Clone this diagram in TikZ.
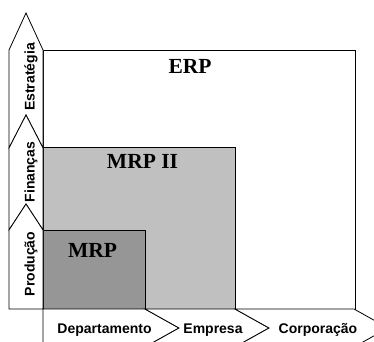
\documentclass[tikz,border=0pt]{standalone}
\usepackage{fontspec}
\setmainfont{Liberation Serif}
\newfontfamily\labelfont{Liberation Sans}
\definecolor{mrptwofill}{HTML}{C0C0C0}
\definecolor{mrpfill}{HTML}{969696}
\begin{document}
\begin{tikzpicture}[x=1pt,y=-1pt,
  outline/.style={draw=black, line width=0.8pt, line join=miter},
  levelbox/.style={outline},
  chevron/.style={outline, fill=white},
  leveltitle/.style={font=\fontsize{21.5}{24}\selectfont\bfseries, inner sep=0pt, anchor=base},
  axislabel/.style={font=\labelfont\fontsize{14}{16}\selectfont\bfseries, inner sep=0pt, anchor=base}]
\useasboundingbox (0,0) rectangle (374,341);

% nested scope boxes
\draw[levelbox, fill=white] (43,50) rectangle (355,309);
\draw[levelbox, fill=mrptwofill] (43,147) rectangle (235,309);
\draw[levelbox, fill=mrpfill] (43,230) rectangle (145,309);

\node[leveltitle] (erp)   at (190,73)  {ERP};
\node[leveltitle] (mrpii) at (142.5,168) {MRP II};
\node[leveltitle] (mrp)   at (92.5,257) {MRP};

% vertical chevrons: decision level
\draw[chevron] (9,50) -- (26,13) -- (43,50) -- (43,148) -- (26,115) -- (9,148) -- cycle;
\draw[chevron] (9,148) -- (26,115) -- (43,148) -- (43,230) -- (26,204) -- (9,230) -- cycle;
\draw[chevron] (9,230) -- (26,204) -- (43,230) -- (43,309) -- (9,309) -- cycle;

\node[axislabel, rotate=90] (estrategia) at (34.5,77)  {Estratégia};
\node[axislabel, rotate=90] (financas)   at (34.5,172) {Finanças};
\node[axislabel, rotate=90] (producao)   at (34.5,264) {Produção};

% horizontal chevrons: organisational scope
\draw[chevron] (43,309) -- (145,309) -- (179,328) -- (145,347) -- (43,347) -- cycle;
\draw[chevron] (145,309) -- (235,309) -- (269,328) -- (235,347) -- (145,347) -- (179,328) -- cycle;
\draw[chevron] (235,309) -- (354,309) -- (388,328) -- (354,347) -- (235,347) -- (269,328) -- cycle;

\node[axislabel] (departamento) at (104.5,333) {Departamento};
\node[axislabel] (empresa)      at (213,333)   {Empresa};
\node[axislabel] (corporacao)   at (318,333)   {Corporação};
\end{tikzpicture}
\end{document}
